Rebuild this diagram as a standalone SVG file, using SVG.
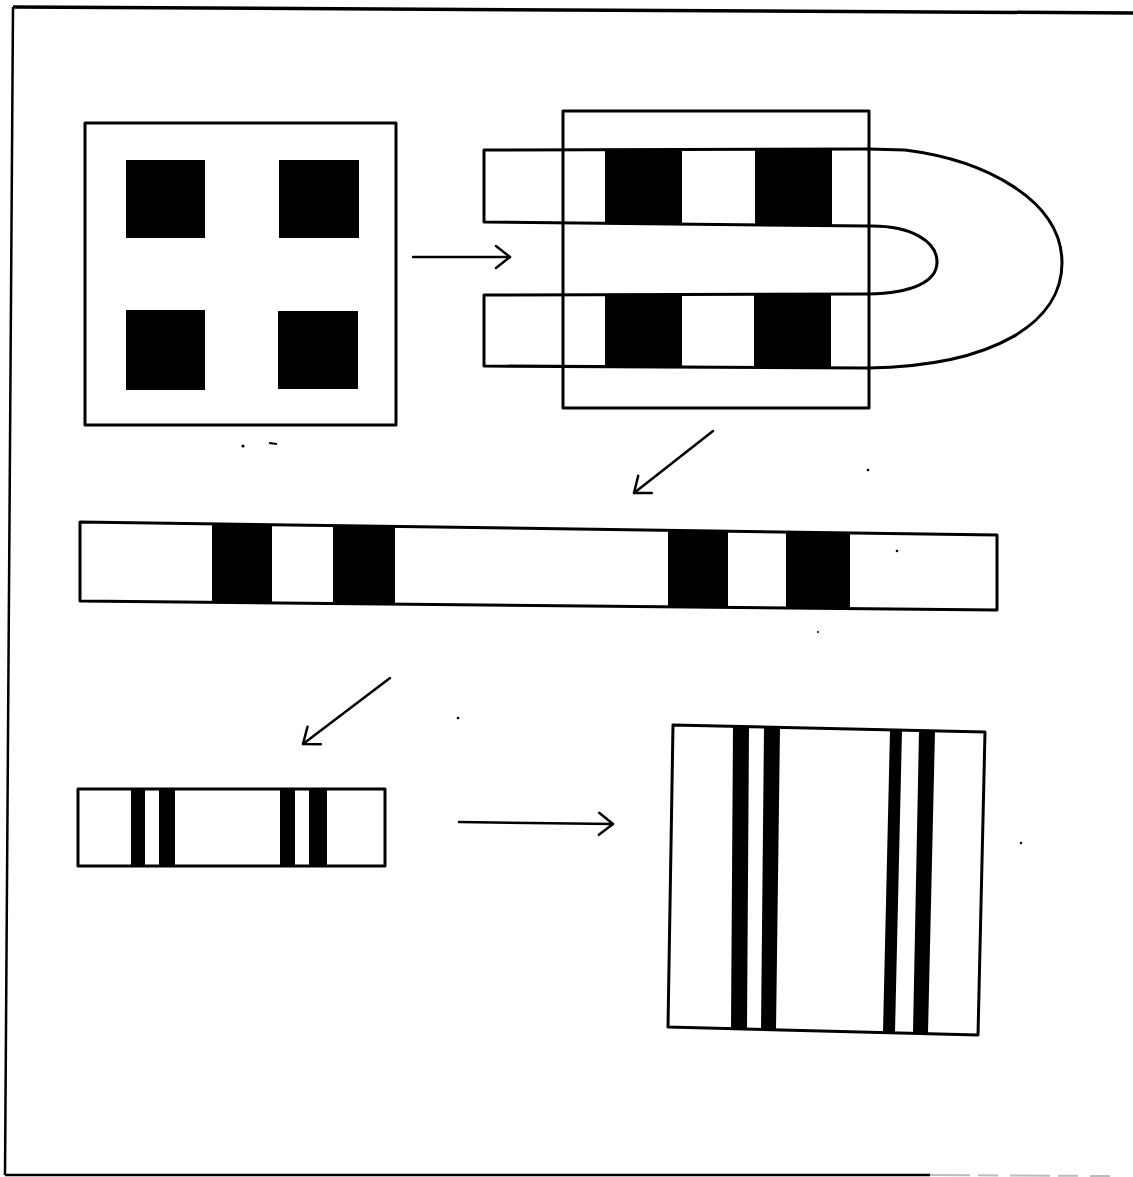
<svg xmlns="http://www.w3.org/2000/svg" width="1133" height="1177" viewBox="0 0 1133 1177">
<style>
.ol{fill:none;stroke:#000;stroke-width:3;stroke-linejoin:round;stroke-linecap:round}
.wf{fill:#fff;stroke:none}
.blk{fill:#000;stroke:none}
.con{fill:none;stroke:#000;stroke-width:2.5;stroke-linecap:round}
.speck{fill:#000}
</style>
<defs>
<marker id="vhead" markerUnits="userSpaceOnUse" viewBox="-17 -14 20 28" refX="0" refY="0" markerWidth="20" markerHeight="28" orient="auto" overflow="visible">
<path d="M-14,-11 L0,0 L-14,11" fill="none" stroke="#000" stroke-width="2.5" stroke-linecap="round" stroke-linejoin="round"/>
</marker>
</defs>
<rect width="1133" height="1177" fill="#fff"/>
<g id="frame">
<path d="M13,7 L1133,13" fill="none" stroke="#000" stroke-width="3.5"/>
<path d="M13,7 L5,1175" fill="none" stroke="#000" stroke-width="2.5"/>
<path d="M5,1175 L930,1175" fill="none" stroke="#000" stroke-width="2.5"/>
<path d="M930,1175 L1110,1176" fill="none" stroke="#bbb" stroke-width="2" stroke-dasharray="40 8 20 12"/>
</g>
<g id="square-grid">
<rect x="85" y="123" width="311" height="302" class="ol"/>
<rect x="126" y="160" width="79" height="78" class="blk"/>
<rect x="279" y="160" width="80" height="78" class="blk"/>
<rect x="126" y="310" width="79" height="80" class="blk"/>
<rect x="278" y="311" width="80" height="78" class="blk"/>
</g>
<g id="folded-strip">
<rect x="605" y="150" width="77" height="73" class="blk"/>
<rect x="755" y="150" width="77" height="75" class="blk"/>
<rect x="605" y="295" width="77" height="72" class="blk"/>
<rect x="754" y="295" width="77" height="72" class="blk"/>
<path d="M868,149 L484,150 L484,222 L868,226" class="ol"/>
<path d="M868,294 L484,295 L484,366 L868,368" class="ol"/>
<path d="M868,149 L905,150 C985,160 1062,200 1062,263 C1062,322 995,366 868,368" class="ol"/>
<path d="M868,226 C912,225 937,242 937,262 C937,282 912,293 868,294" class="ol"/>
<rect x="563" y="111" width="306" height="297" class="ol"/>
</g>
<g id="long-strip">
<polygon points="80,522 997,535 997,610 80,601" class="wf"/>
<polygon points="212,524 272,525 272,603 212,602" class="blk"/>
<polygon points="333,526 395,526 395,604 333,603" class="blk"/>
<polygon points="668,530 728,531 728,607 668,607" class="blk"/>
<polygon points="786,532 850,533 850,608 786,608" class="blk"/>
<polygon points="80,522 997,535 997,610 80,601" class="ol"/>
</g>
<g id="short-strip">
<rect x="131" y="789" width="14" height="77" class="blk"/>
<rect x="159" y="789" width="16" height="77" class="blk"/>
<rect x="280" y="789" width="15" height="77" class="blk"/>
<rect x="309" y="789" width="18" height="77" class="blk"/>
<rect x="78" y="789" width="307" height="77" class="ol"/>
</g>
<g id="final-square">
<polygon points="733,727 749,727 747,1029 731,1029" class="blk"/>
<polygon points="764,728 780,728 776,1030 761,1030" class="blk"/>
<polygon points="890,730 902,730 895,1032 883,1032" class="blk"/>
<polygon points="919,731 935,731 928,1033 913,1033" class="blk"/>
<polygon points="673,725 985,732 978,1035 668,1027" class="ol"/>
</g>
<g id="connectors">
<path d="M413,257 L510,257" class="con" marker-end="url(#vhead)"/>
<path d="M713,431 L634,493" class="con" marker-end="url(#vhead)"/>
<path d="M390,678 L303,744" class="con" marker-end="url(#vhead)"/>
<path d="M459,822 L613,824" class="con" marker-end="url(#vhead)"/>
</g>
<g id="specks">
<circle cx="243" cy="446" r="1.6" class="speck"/>
<path d="M269,443 L277,444" stroke="#000" stroke-width="2"/>
<circle cx="868" cy="470" r="1.3" class="speck"/>
<circle cx="897" cy="551" r="1.3" class="speck"/>
<circle cx="818" cy="632" r="1" class="speck"/>
<circle cx="458" cy="718" r="1.3" class="speck"/>
<circle cx="1021" cy="843" r="1.2" class="speck"/>
</g>
</svg>
